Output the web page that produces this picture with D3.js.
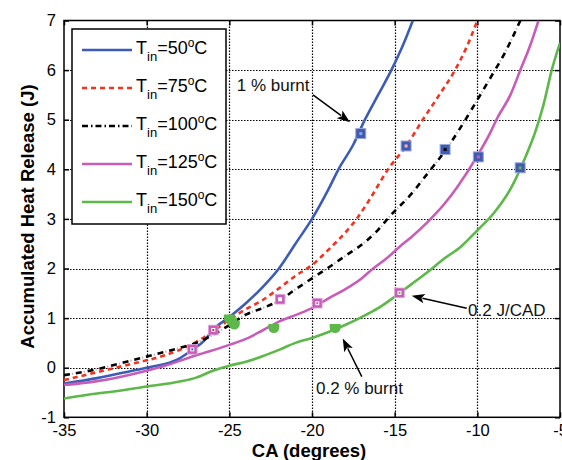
<!DOCTYPE html>
<html><head><meta charset="utf-8">
<script src="https://cdn.jsdelivr.net/npm/d3@7"></script>
<style>body{margin:0;background:#fff}svg{display:block}text{font-family:"Liberation Sans",Arial,sans-serif}</style>
</head><body><svg id="c" width="562" height="460"></svg>
<script>
// ---- data ----
const ca50 = [-35,-33,-31,-30,-28,-27.2,-26.5,-26,-25,-24,-23,-22,-21,-20,-19,-18.4,-17.5,-16.8,-16,-15.2,-14.5,-13.9];
const q50  = [-0.32,-0.21,-0.07,0.0,0.19,0.37,0.55,0.76,1.02,1.3,1.62,2.0,2.5,3.0,3.6,4.0,4.5,5.0,5.5,6.0,6.5,7.0];
const ca75 = [-35,-33,-31,-29,-28,-27,-26,-25,-24,-23,-22,-21,-20,-19,-18,-17.3,-16.5,-15.4,-14.3,-13.3,-12.3,-11.35,-10.6,-10.0];
const q75  = [-0.25,-0.09,0.07,0.24,0.36,0.52,0.73,0.97,1.18,1.36,1.6,1.85,2.07,2.38,2.72,3.0,3.4,4.0,4.47,5.0,5.5,6.0,6.5,7.0];
const ca100 = [-35,-33,-31,-29,-28,-27,-26,-25,-24,-23,-22,-21,-20,-19,-18,-17,-16,-15.3,-14,-13,-12,-11,-10,-9.2,-8.3,-7.4];
const q100  = [-0.15,-0.03,0.14,0.31,0.4,0.5,0.66,0.86,1.07,1.2,1.35,1.58,1.8,2.02,2.25,2.48,2.78,3.05,3.5,3.92,4.35,4.85,5.4,5.85,6.37,7.0];
const ca125 = [-35,-33,-31,-29,-27,-25,-24,-23,-22,-21,-20,-19,-18,-17,-16.3,-15.5,-14.7,-14,-13,-12,-11.2,-10,-9.2,-8.8,-8,-7.4,-6.8,-6.3];
const q125  = [-0.35,-0.27,-0.14,0.03,0.25,0.46,0.58,0.75,0.93,1.06,1.2,1.4,1.58,1.8,2.0,2.2,2.44,2.63,2.94,3.3,3.65,4.27,4.75,5.03,5.5,6.0,6.5,7.0];
const ca150 = [-35,-33,-32,-30,-28,-27,-26,-25,-24,-23,-22,-21,-20,-19,-18,-17,-16,-15,-14,-13,-12,-11,-10,-9,-8,-7,-6.5,-6,-5.5,-5];
const q150  = [-0.62,-0.52,-0.48,-0.38,-0.28,-0.2,-0.06,0.04,0.12,0.23,0.36,0.5,0.6,0.72,0.86,1.02,1.2,1.43,1.68,1.93,2.2,2.44,2.77,3.12,3.6,4.32,4.75,5.3,6.0,6.55];

const seriesTemps = ["50","75","100","125","150"];
const seriesColors = ["#3d5cb8","#f5321e","#000000","#c85cb8","#5cb848"];

// 1 % burnt markers
const burnt1CA = [-17.05,-14.31,-11.95,-9.94,-7.41];
const burnt1Q  = [4.72,4.47,4.40,4.25,4.03];
// 0.2 J/CAD markers
const jcadCA = [-27.24,-25.97,-21.93,-19.68,-14.71];
const jcadQ  = [0.37,0.76,1.38,1.30,1.51];
// 0.2 % burnt markers
const burnt02CA = [-25.0,-24.85,-24.7,-22.31,-18.6];
const burnt02Q  = [0.98,0.92,0.86,0.79,0.79];

const xTicks = [-35,-30,-25,-20,-15,-10,-5];
const yTicks = [-1,0,1,2,3,4,5,6,7];

// ---- drawing ----
const svg = d3.select("#c");
const X0=64, X1=560, Y0=417.3, Y1=20.5;
const x = d3.scaleLinear().domain([-35,-5]).range([X0,X1]);
const y = d3.scaleLinear().domain([-1,7]).range([Y0,Y1]);
const snap = v => Math.round(v)+0.5;

svg.append("defs").append("clipPath").attr("id","clip")
  .append("rect").attr("x",X0).attr("y",Y1).attr("width",X1-X0).attr("height",Y0-Y1);

// grid
const grid = svg.append("g");
grid.selectAll("line.gx").data(xTicks.slice(1,-1)).join("line")
  .attr("x1",d=>snap(x(d))).attr("x2",d=>snap(x(d))).attr("y1",Y1).attr("y2",Y0)
  .attr("stroke","#000").attr("stroke-width",1.2).attr("stroke-dasharray","1.5,1.5");
grid.selectAll("line.gy").data(yTicks.slice(1,-1)).join("line")
  .attr("y1",d=>snap(y(d))).attr("y2",d=>snap(y(d))).attr("x1",X0).attr("x2",X1)
  .attr("stroke","#000").attr("stroke-width",1.2).attr("stroke-dasharray","1.5,1.5");

// axes
const fmt = d=>String(d);
const ax = (g)=>g.selectAll(".domain").remove();
svg.append("g").attr("transform",`translate(0,${Y0})`)
  .call(d3.axisBottom(x).tickValues(xTicks).tickFormat(fmt).tickSize(-5).tickPadding(6.5))
  .call(ax).call(g=>g.selectAll("text").attr("font-size",16.5).attr("fill","#000").attr("font-family","Liberation Sans, Arial"))
  .call(g=>g.selectAll("line").attr("stroke-width",1.5));
svg.append("g").attr("transform",`translate(0,${Y1})`)
  .call(d3.axisTop(x).tickValues(xTicks).tickFormat("").tickSize(-5)).call(ax)
  .call(g=>g.selectAll("line").attr("stroke-width",1.5));
svg.append("g").attr("transform",`translate(${X0},0)`)
  .call(d3.axisLeft(y).tickValues(yTicks).tickFormat(fmt).tickSize(-5).tickPadding(8))
  .call(ax).call(g=>g.selectAll("text").attr("font-size",16.5).attr("fill","#000").attr("font-family","Liberation Sans, Arial"))
  .call(g=>g.selectAll("line").attr("stroke-width",1.5));
svg.append("g").attr("transform",`translate(${X1},0)`)
  .call(d3.axisRight(y).tickValues(yTicks).tickFormat("").tickSize(-5)).call(ax)
  .call(g=>g.selectAll("line").attr("stroke-width",1.5));

svg.append("rect").attr("x",X0).attr("y",Y1).attr("width",X1-X0).attr("height",Y0-Y1)
  .attr("fill","none").attr("stroke","#000").attr("stroke-width",1.5);

// curves
const seriesData = [[ca50,q50],[ca75,q75],[ca100,q100],[ca125,q125],[ca150,q150]];
const line = d3.line().x(d=>x(d[0])).y(d=>y(d[1])).curve(d3.curveMonotoneX);
const cg = svg.append("g").attr("clip-path","url(#clip)");
seriesData.forEach((s,i)=>{
  const pts = s[0].map((c,k)=>[c,s[1][k]]);
  const p = cg.append("path").attr("d",line(pts)).attr("fill","none")
    .attr("stroke",seriesColors[i]).attr("stroke-width",2.6).attr("stroke-linejoin","round");
  if(i===1) p.attr("stroke-dasharray","5,4");
  if(i===2){
    p.attr("stroke-dasharray","6,6");
    cg.append("path").attr("d",line(pts)).attr("fill","none")
      .attr("stroke","#b0b0b0").attr("stroke-width",2).attr("stroke-dasharray","0,8,1.2,2.8");
  }
});

// markers
const mg = svg.append("g");
// 0.2 % burnt (green blobs)
const blob = "M-5.5,-4.5 L5.5,-4.5 L5.5,-1 A5.5,5.5 0 0 1 -5.5,-1 Z";
burnt02CA.forEach((c,i)=>{
  mg.append("path").attr("d",blob).attr("transform",`translate(${x(c)},${y(burnt02Q[i])})`)
    .attr("fill","#5cb848");
});
// 0.2 J/CAD (magenta squares)
jcadCA.forEach((c,i)=>{
  const cx=x(c), cy=y(jcadQ[i]);
  mg.append("rect").attr("x",cx-4.8).attr("y",cy-4.8).attr("width",9.6).attr("height",9.6)
    .attr("fill","#c85cb8").attr("stroke","#e0a0d8").attr("stroke-width",0.8);
  mg.append("rect").attr("x",cx-2).attr("y",cy-2).attr("width",4).attr("height",4).attr("fill","#fff");
  mg.append("rect").attr("x",cx-1).attr("y",cy-1).attr("width",2).attr("height",2)
    .attr("fill", i===2 ? "#fff" : seriesColors[i]);
});
// 1 % burnt (blue squares)
burnt1CA.forEach((c,i)=>{
  const cx=x(c), cy=y(burnt1Q[i]);
  mg.append("rect").attr("x",cx-5).attr("y",cy-5).attr("width",10).attr("height",10)
    .attr("fill","#3f5ab0").attr("stroke","#9aa8dc").attr("stroke-width",1);
  mg.append("rect").attr("x",cx-1.5).attr("y",cy-1.5).attr("width",3).attr("height",3)
    .attr("fill", i===0 ? "#8fa2e0" : (i===1 ? "#ffb0a8" : seriesColors[i]));
});

// annotations (data coordinates)
function arrow(x1,y1,x2,y2){
  const px1=x(x1),py1=y(y1),px2=x(x2),py2=y(y2);
  const dx=px2-px1, dy=py2-py1, L=Math.hypot(dx,dy), ux=dx/L, uy=dy/L;
  const hl=13, hw=4.8;
  const bx=px2-ux*hl, by=py2-uy*hl;
  svg.append("line").attr("x1",px1).attr("y1",py1).attr("x2",bx+ux*2).attr("y2",by+uy*2)
    .attr("stroke","#000").attr("stroke-width",1.5);
  svg.append("path").attr("d",`M${px2},${py2} L${bx-uy*hw},${by+ux*hw} L${bx+ux*3},${by+uy*3} L${bx+uy*hw},${by-ux*hw} Z`)
    .attr("fill","#000");
}
arrow(-19.94,5.50,-17.70,4.95);
arrow(-10.64,1.20,-13.97,1.45);
arrow(-16.99,-0.18,-18.14,0.59);
const notes = [["1 % burnt",-24.55,5.58],["0.2 J/CAD",-10.56,1.04],["0.2 % burnt",-19.76,-0.53]];
notes.forEach(n=>{
  svg.append("text").attr("x",x(n[1])).attr("y",y(n[2])).attr("font-size",17).attr("fill","#111").text(n[0]);
});

// legend
const lg = svg.append("g");
lg.append("rect").attr("x",72).attr("y",29).attr("width",154).attr("height",195)
  .attr("fill","#fff").attr("stroke","#000").attr("stroke-width",1.5);
seriesTemps.forEach((t,i)=>{
  const ry = 50 + i*38;
  const l = lg.append("line").attr("x1",82).attr("x2",132).attr("y1",ry).attr("y2",ry)
    .attr("stroke",seriesColors[i]).attr("stroke-width",2.6);
  if(i===1) l.attr("stroke-dasharray","5,4");
  if(i===2) l.attr("stroke-dasharray","6,3,1.5,3");
  const tx = lg.append("text").attr("x",136).attr("y",ry+3.5).attr("font-size",18).attr("fill","#000");
  tx.append("tspan").text("T");
  tx.append("tspan").attr("dy",7.5).attr("font-size",13).text("in");
  tx.append("tspan").attr("dy",-7.5).text("=" + t);
  tx.append("tspan").attr("dy",-6.5).attr("font-size",12).text("o");
  tx.append("tspan").attr("dy",6.5).text("C");
});

// axis titles
svg.append("text").attr("x",309).attr("y",457).attr("text-anchor","middle")
  .attr("font-size",18.5).attr("font-weight","bold").text("CA (degrees)");
svg.append("text").attr("transform","translate(34,216.5) rotate(-90)").attr("text-anchor","middle")
  .attr("font-size",18.5).attr("font-weight","bold").text("Accumulated Heat Release (J)");
</script></body></html>
